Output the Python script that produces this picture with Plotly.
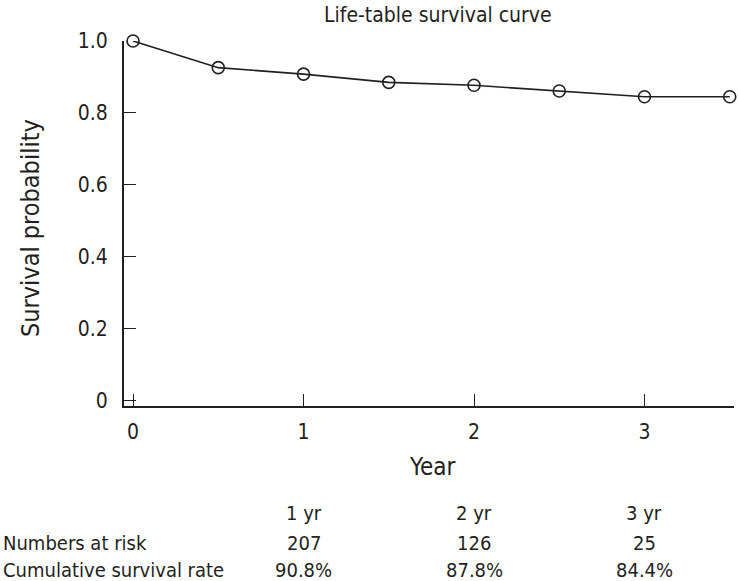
import plotly.graph_objects as go

# Data
years = [0, 0.5, 1, 1.5, 2, 2.5, 3, 3.5]
survival = [1.0, 0.926, 0.908, 0.885, 0.877, 0.861, 0.845, 0.845]

table_years = [1, 2, 3]
table_headers = ["1 yr", "2 yr", "3 yr"]
numbers_at_risk = ["207", "126", "25"]
cumulative_rate = ["90.8%", "87.8%", "84.4%"]
row_labels = ["Numbers at risk", "Cumulative survival rate"]

y_ticks = [0, 0.2, 0.4, 0.6, 0.8, 1.0]
y_ticktext = ["0", "0.2", "0.4", "0.6", "0.8", "1.0"]
x_ticks = [0, 1, 2, 3]

FONT = "Liberation Sans Narrow, DejaVu Sans Condensed, Arial Narrow, sans-serif"
INK = "#231f20"

fig = go.Figure()
fig.add_trace(go.Scatter(
    x=years, y=survival, mode="lines+markers",
    line=dict(color=INK, width=1.6),
    marker=dict(symbol="circle-open", size=12, color=INK, line=dict(width=1.6)),
    cliponaxis=False, showlegend=False,
))

annotations = []
# Table header and rows aligned with x positions
for xv, h, n, c in zip(table_years, table_headers, numbers_at_risk, cumulative_rate):
    for txt, yp in ((h, 513), (n, 543), (c, 570)):
        annotations.append(dict(
            x=xv, xref="x", y=1 - (yp - 41) / 365, yref="paper",
            text=txt, showarrow=False, xanchor="center", yanchor="middle",
            font=dict(family=FONT, size=20, color=INK)))
for lab, yp in zip(row_labels, (543, 570)):
    annotations.append(dict(
        x=0, xref="paper", xshift=-123, y=1 - (yp - 41) / 365, yref="paper",
        text=lab, showarrow=False, xanchor="left", yanchor="middle",
        font=dict(family=FONT, size=20, color=INK)))
# Axis titles
annotations.append(dict(
    x=(432 - 124) / 610, xref="paper", y=1 - (467 - 41) / 365, yref="paper",
    text="Year", showarrow=False, xanchor="center", yanchor="middle",
    font=dict(family=FONT, size=24, color=INK)))
annotations.append(dict(
    x=(30 - 124) / 610, xref="paper", y=1 - (228 - 41) / 365, yref="paper",
    text="Survival probability", showarrow=False, textangle=-90,
    xanchor="center", yanchor="middle",
    font=dict(family=FONT, size=25, color=INK)))
annotations.append(dict(
    x=(437.5 - 124) / 610, xref="paper", y=1 - (15 - 41) / 365, yref="paper",
    text="Life-table survival curve", showarrow=False,
    xanchor="center", yanchor="middle",
    font=dict(family=FONT, size=21, color=INK)))

fig.update_layout(
    width=738, height=581,
    margin=dict(l=124, r=4, t=41, b=175),
    paper_bgcolor="white", plot_bgcolor="white",
    font=dict(family=FONT, color=INK),
    annotations=annotations,
    xaxis=dict(
        range=[-0.053, 3.525], tickvals=x_ticks, ticks="inside", ticklen=12,
        tickwidth=1, tickcolor=INK, showline=True, linecolor=INK, linewidth=2,
        showgrid=False, zeroline=False, tickfont=dict(family=FONT, size=21, color=INK),
        ticklabelstandoff=6,
    ),
    yaxis=dict(
        range=[-0.014, 1.0], tickvals=y_ticks, ticktext=y_ticktext, ticks="inside",
        ticklen=12, tickwidth=1, tickcolor=INK, showline=True, linecolor=INK,
        linewidth=2, showgrid=False, zeroline=False,
        tickfont=dict(family=FONT, size=21, color=INK), ticklabelstandoff=10,
    ),
)

fig.write_html("out.html", config={"displayModeBar": False},
               post_script="document.body.style.margin='0';")
